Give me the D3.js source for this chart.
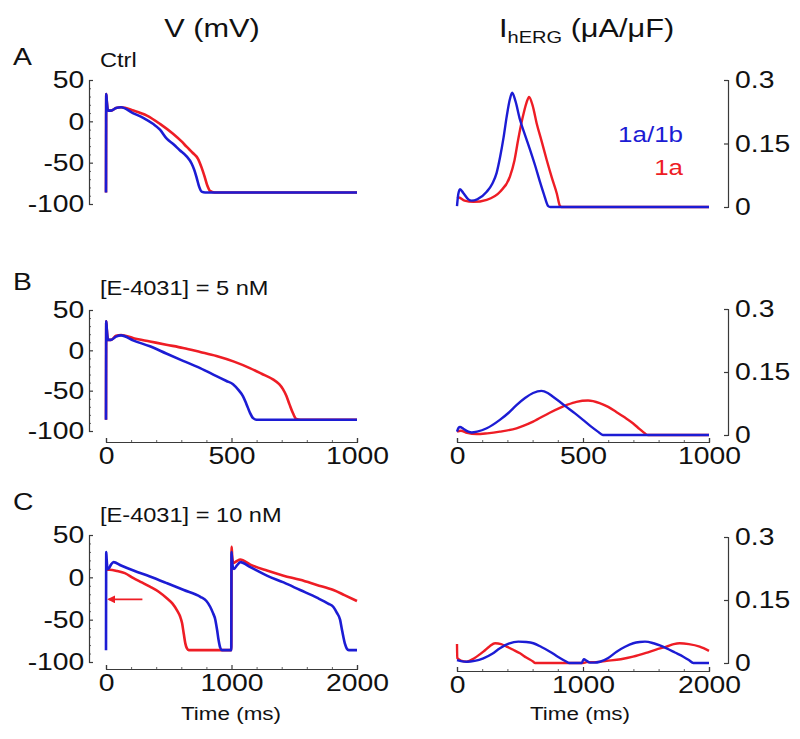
<!DOCTYPE html>
<html>
<head>
<meta charset="utf-8">
<script src="https://cdn.jsdelivr.net/npm/d3@7"></script>
<style>
  body { margin: 0; background: #fff; }
  text { font-family: "Liberation Sans", Arial, sans-serif; fill: #111; }
</style>
</head>
<body>
<svg width="800" height="739"></svg>
<script>
// ---- data (time in ms, V in mV, I in uA/uF) ----
let vA_blue = [[0,-86],[1,33],[3,25],[8,13],[20,13],[40,16],[60,17],[107,10],[150,4],[187,-3],[215,-10],[242,-21],[270,-28],[294,-35],[320,-42],[341,-51],[352,-59],[361,-68],[371,-79],[381,-85],[395,-86],[1000,-86]];
let vA_red = [[0,-86],[1,33],[3,25],[8,13],[20,13],[40,16],[60,17],[110,13],[163,7],[215,-3],[267,-15],[300,-24],[322,-31],[345,-38],[366,-45],[381,-56],[394,-68],[404,-78],[414,-84],[433,-86],[1000,-86]];
let iA_blue = [[0,0.002],[5,0.03],[12,0.042],[25,0.033],[45,0.018],[58,0.015],[80,0.018],[118,0.036],[140,0.055],[157,0.08],[171,0.118],[185,0.165],[197,0.213],[210,0.255],[219,0.27],[232,0.25],[250,0.206],[270,0.17],[290,0.135],[310,0.098],[329,0.06],[345,0.03],[362,0.002],[370,0],[1000,0]];
let iA_red = [[0,0.024],[10,0.022],[30,0.015],[65,0.012],[118,0.017],[171,0.036],[210,0.072],[228,0.11],[243,0.16],[260,0.21],[275,0.245],[286,0.26],[300,0.24],[316,0.198],[336,0.155],[356,0.111],[376,0.07],[396,0.032],[409,0.002],[415,0],[1000,0]];

let vB_blue = [[0,-86],[1,36],[3,27],[8,13],[20,13],[40,17],[60,18.5],[110,12],[175,5],[240,-4],[307,-13],[375,-22],[440,-32],[480,-38],[506,-42],[530,-50],[546,-57],[560,-67],[573,-77],[586,-84],[600,-86],[1000,-86]];
let vB_red = [[0,-86],[1,36],[3,27],[8,13],[20,13],[40,18],[60,19],[110,15],[175,11],[240,7],[307,3],[375,-2],[440,-7],[510,-14],[573,-22],[620,-29],[665,-36],[690,-42],[705,-48],[718,-56],[731,-67],[745,-78],[758,-85],[775,-86],[1000,-86]];
let iB_blue = [[0,0.008],[6,0.017],[12,0.019],[25,0.015],[45,0.008],[58,0.006],[80,0.008],[118,0.016],[170,0.036],[205,0.053],[236,0.071],[270,0.088],[302,0.1],[335,0.105],[360,0.1],[381,0.091],[410,0.078],[434,0.067],[467,0.052],[500,0.036],[530,0.021],[559,0.008],[579,0],[1000,0]];
let iB_red = [[0,0.008],[15,0.01],[40,0.005],[78,0.002],[120,0.004],[170,0.008],[236,0.016],[302,0.032],[368,0.053],[434,0.071],[474,0.079],[520,0.082],[566,0.076],[600,0.067],[632,0.055],[665,0.042],[698,0.028],[725,0.014],[745,0.004],[757,0],[1000,0]];

let vC_blue = [[0,-86],[2,30],[5,22],[12,11],[20,10],[40,15],[60,18],[120,14],[219,8],[350,1],[487,-7],[620,-15],[752,-23],[800,-28],[831,-35],[852,-42],[871,-50],[885,-62],[897,-74],[910,-83],[924,-86],[998,-86],[1000,30],[1004,22],[1012,11],[1020,10],[1043,14],[1070,18],[1150,12],[1282,2],[1415,-6],[1547,-15],[1680,-24],[1770,-31],[1812,-35],[1840,-42],[1865,-50],[1878,-60],[1891,-70],[1905,-79],[1918,-84],[1935,-86],[2000,-86]];
let vC_red = [[0,9],[30,9],[89,7.5],[150,5],[219,-1],[285,-6],[350,-11],[420,-17],[487,-25],[530,-31],[566,-39],[590,-46],[606,-54],[620,-67],[632,-78],[645,-84],[659,-86],[998,-86],[1001,36],[1005,26],[1015,17],[1040,19],[1070,21],[1150,15],[1282,8],[1415,2],[1547,-3],[1680,-9],[1812,-15],[1900,-21],[2000,-28]];
let iC_blue = [[0,0.007],[40,0.004],[77,0.003],[140,0.005],[209,0.011],[280,0.022],[341,0.035],[410,0.046],[487,0.051],[550,0.05],[606,0.047],[670,0.038],[738,0.027],[800,0.015],[870,0.003],[890,0],[990,0],[1000,0.006],[1008,0.009],[1025,0.006],[1056,0.001],[1090,0.001],[1135,0.003],[1200,0.012],[1267,0.027],[1330,0.038],[1399,0.047],[1450,0.05],[1492,0.051],[1560,0.047],[1610,0.042],[1664,0.035],[1730,0.025],[1796,0.015],[1840,0.007],[1876,0],[2000,0]];
let iC_red = [[0,0.045],[2,0.012],[30,0.006],[77,0.003],[140,0.012],[209,0.027],[260,0.04],[302,0.047],[350,0.045],[394,0.039],[450,0.031],[500,0.023],[550,0.013],[606,0.003],[620,0],[1000,0],[1029,0.002],[1100,0.002],[1188,0.005],[1300,0.009],[1397,0.015],[1500,0.024],[1580,0.032],[1662,0.039],[1720,0.045],[1767,0.047],[1840,0.045],[1926,0.039],[2000,0.029]];

let arrowC = [[290,-26],[22,-26]];

let vTicks = [-100, -50, 0, 50];
let iTicks = [0, 0.15, 0.3];
let tTicks1000 = [0, 500, 1000];
let tTicks2000 = [0, 1000, 2000];

let blue = "#1c1cd4", red = "#ee1d25", axisCol = "#3a3a3a";
let sx = 1.18; // the figure's lettering is slightly stretched sideways

let svg = d3.select("svg");

// marker for arrow
svg.append("defs").append("marker")
    .attr("id", "arrowhead")
    .attr("viewBox", "0 0 10 10")
    .attr("refX", 8).attr("refY", 5)
    .attr("markerWidth", 5).attr("markerHeight", 5)
    .attr("orient", "auto")
    .append("path").attr("d", "M0,0 L10,5 L0,10 z").attr("fill", red);

function label(x, y, txt, size, anchor) {
    return svg.append("text")
        .attr("transform", "translate(" + x + "," + y + ") scale(" + sx + ",1)")
        .attr("text-anchor", anchor || "start")
        .style("font-size", size + "px")
        .text(txt);
}

function styleAxis(g) {
    g.selectAll("path, line").attr("stroke", axisCol).attr("stroke-width", 1.2);
    g.selectAll("text").attr("transform", "scale(" + sx + ",1)")
        .style("font-size", "24px").attr("fill", "#111");
}

let plain = d => String(d);   // hyphen minus, no thousands comma

let line = (xs, ys) => d3.line().x(d => xs(d[0])).y(d => ys(d[1])).curve(d3.curveMonotoneX);

function timeAxis(x, tMax, xAxisY) {
    let gx = svg.append("g").attr("transform", "translate(0," + xAxisY + ")")
        .call(d3.axisBottom(x).tickValues(tMax == 1000 ? tTicks1000 : tTicks2000)
            .tickSize(-4).tickSizeOuter(-4).tickPadding(5).tickFormat(plain));
    styleAxis(gx);
    svg.append("g").attr("transform", "translate(0," + xAxisY + ")")
        .call(d3.axisBottom(x).tickValues(d3.range(0, tMax, tMax / 10).filter(v => v % (tMax / 2) != 0)).tickSize(-2).tickFormat(""))
        .call(g => g.select(".domain").remove())
        .selectAll("line").attr("stroke", axisCol).attr("stroke-width", 0.8);
}

function traces(x, y, redData, blueData, w) {
    svg.append("path").datum(redData).attr("d", line(x, y)).attr("fill", "none")
        .attr("stroke", red).attr("stroke-width", w).attr("stroke-linejoin", "round");
    svg.append("path").datum(blueData).attr("d", line(x, y)).attr("fill", "none")
        .attr("stroke", blue).attr("stroke-width", w).attr("stroke-linejoin", "round");
}

function vPanel(tMax, yTop, yBot, redData, blueData, xAxisY) {
    let x = d3.scaleLinear().domain([0, tMax]).range([106, 357]);
    let y = d3.scaleLinear().domain([-100, 50]).range([yBot, yTop]);
    // y axis with inward ticks
    let gy = svg.append("g").attr("transform", "translate(89,0)")
        .call(d3.axisLeft(y).tickValues(vTicks).tickSize(-4).tickSizeOuter(-4).tickPadding(4).tickFormat(plain));
    styleAxis(gy);
    svg.append("g").attr("transform", "translate(89,0)")
        .call(d3.axisLeft(y).tickValues(d3.range(-90, 50, 10).filter(v => v % 50 != 0)).tickSize(-2).tickFormat(""))
        .call(g => g.select(".domain").remove())
        .selectAll("line").attr("stroke", axisCol).attr("stroke-width", 0.8);
    if (xAxisY) timeAxis(x, tMax, xAxisY);
    traces(x, y, redData, blueData, 2.6);
    return { x: x, y: y };
}

function iPanel(tMax, yTop, yBot, redData, blueData, xAxisY) {
    let x = d3.scaleLinear().domain([0, tMax]).range([457, 709]);
    let y = d3.scaleLinear().domain([0, 0.3]).range([yBot, yTop]);
    let gy = svg.append("g").attr("transform", "translate(728,0)")
        .call(d3.axisRight(y).tickValues(iTicks).tickSize(-4).tickSizeOuter(-4).tickPadding(6).tickFormat(plain));
    styleAxis(gy);
    if (xAxisY) timeAxis(x, tMax, xAxisY);
    traces(x, y, redData, blueData, 2.4);
    return { x: x, y: y };
}

// panels
vPanel(1000, 80, 204, vA_red, vA_blue, null);
iPanel(1000, 80, 207, iA_red, iA_blue, null);
vPanel(1000, 310, 431, vB_red, vB_blue, 442);
iPanel(1000, 309, 435, iB_red, iB_blue, 442);
let pc = vPanel(2000, 535, 662, vC_red, vC_blue, 669);
iPanel(2000, 537, 663, iC_red, iC_blue, 671);

// red arrow in panel C
svg.append("line")
    .attr("x1", pc.x(arrowC[0][0])).attr("y1", pc.y(arrowC[0][1]))
    .attr("x2", pc.x(arrowC[1][0])).attr("y2", pc.y(arrowC[1][1]))
    .attr("stroke", red).attr("stroke-width", 1.6)
    .attr("marker-end", "url(#arrowhead)");

// titles
label(212, 37, "V (mV)", 26, "middle");
let ih = svg.append("text")
    .attr("transform", "translate(499,37) scale(" + sx + ",1)")
    .style("font-size", "26px");
ih.append("tspan").text("I");
ih.append("tspan").attr("dy", 6).style("font-size", "17px").text("hERG");
ih.append("tspan").attr("dy", -6).text(" (\u03bcA/\u03bcF)");

// panel letters and conditions
label(13, 65, "A", 24);
label(100, 67, "Ctrl", 20);
label(13, 290, "B", 24);
label(100, 295, "[E-4031] = 5 nM", 20);
label(13, 510, "C", 24);
label(100, 522, "[E-4031] = 10 nM", 20);

// legend
label(683, 142, "1a/1b", 22, "end").style("fill", blue);
label(683, 175, "1a", 22, "end").style("fill", red);

// x axis titles
label(231, 720, "Time (ms)", 19, "middle");
label(580, 720, "Time (ms)", 19, "middle");
</script>
</body>
</html>
